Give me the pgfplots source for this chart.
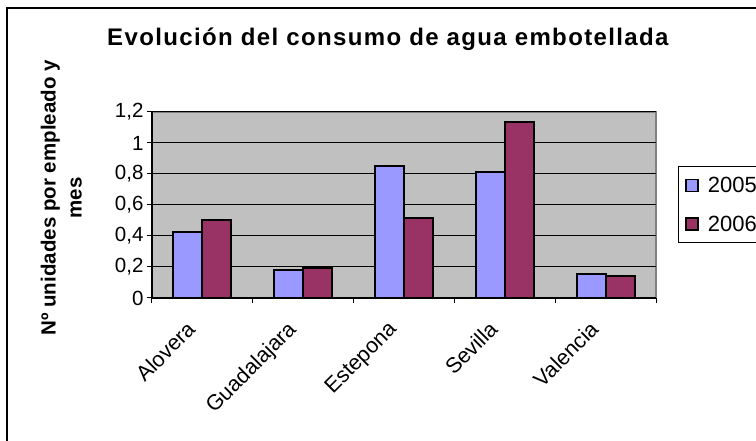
\documentclass[border=0pt]{standalone}
\usepackage{fontspec}
\setmainfont{Liberation Sans}
\newfontfamily\titlefont[LetterSpace=5.7]{Liberation Sans}
\usepackage{pgfplots}
\pgfplotsset{compat=1.18}
\definecolor{serieA}{HTML}{9999FF}
\definecolor{serieB}{HTML}{993366}
\definecolor{fondo}{HTML}{C0C0C0}
\definecolor{borde}{HTML}{808080}

\begin{document}
\begin{tikzpicture}
\useasboundingbox (0,0) rectangle (756pt,441pt);
\clip (0,0) rectangle (756pt,441pt);
\draw[line width=2pt] (7pt,-10pt) rectangle (800pt,433pt);
\begin{axis}[
  at={(152pt,143pt)}, anchor=south west,
  scale only axis, width=504pt, height=186pt,
  ybar=0pt, bar width=29pt,
  xmin=-0.5, xmax=4.5, ymin=0, ymax=1.2,
  xtick={0,1,2,3,4},
  xticklabels={Alovera,Guadalajara,Estepona,Sevilla,Valencia},
  minor xtick={-0.5,0.5,1.5,2.5,3.5,4.5},
  major x tick style={draw=none},
  minor x tick style={black, line width=1pt},
  minor tick length=5pt,
  ytick={0,0.2,0.4,0.6,0.8,1,1.2},
  y tick style={black, line width=1pt},
  major tick length=5pt,
  tick align=outside,
  axis x line*=bottom, axis y line*=left,
  axis line style={black, line width=1.2pt, -},
  axis background/.style={fill=fondo, draw=borde, line width=1.2pt},
  ymajorgrids, major grid style={black, line width=1pt},
  /pgf/number format/.cd, use comma, fixed, assume math mode=true,
  /pgfplots/.cd,
  y tick label style={font=\fontsize{20.5}{24}\selectfont},
  x tick label style={font=\fontsize{21.5}{24}\selectfont, xshift=-17pt, yshift=-12pt, rotate=45, anchor=north east},
  title={Evolución del consumo de agua embotellada},
  title style={font=\fontsize{24}{28}\selectfont\titlefont\bfseries, at={(axis description cs:0.468,1.326)}, anchor=base},
  ylabel={Nº unidades por empleado y\\mes},
  ylabel style={font=\fontsize{20.5}{26}\selectfont\bfseries, align=center, at={(axis description cs:-0.18,0.538)}, anchor=center},
  every axis plot post/.append style={legend image code/.code={\draw[#1, line width=1.4pt] (0pt,-6pt) rectangle (12pt,6pt); \path (19pt,0pt);}},
  legend style={at={(axis description cs:1.043,0.7075)}, anchor=north west, draw=black, line width=1pt, fill=white,
    font=\fontsize{22}{26}\selectfont, row sep=18pt, inner xsep=7pt, inner ysep=8pt},
  legend cell align=left,
]
\addplot[fill=serieA, draw=black, line width=2pt] coordinates {(0,0.426) (1,0.178) (2,0.852) (3,0.813) (4,0.157)};
\addplot[fill=serieB, draw=black, line width=2pt] coordinates {(0,0.500) (1,0.194) (2,0.518) (3,1.135) (4,0.139)};
\legend{2005, 2006}
\end{axis}
\end{tikzpicture}
\end{document}
